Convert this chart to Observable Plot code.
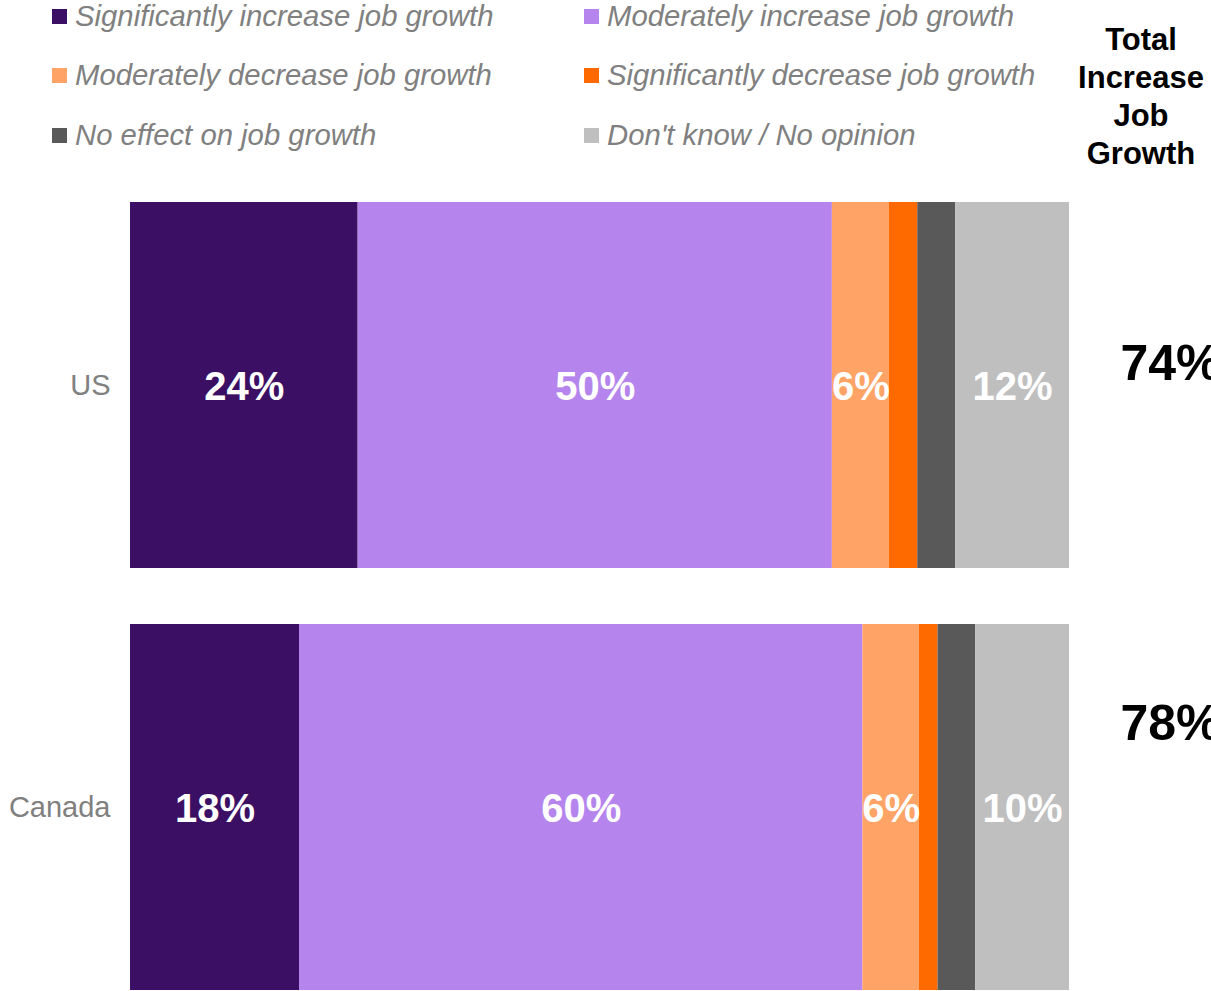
<!DOCTYPE html>
<html>
<head>
<meta charset="utf-8">
<script src="https://cdn.jsdelivr.net/npm/d3@7"></script>
<script src="https://cdn.jsdelivr.net/npm/@observablehq/plot@0.6"></script>
<style>
  html, body { margin: 0; padding: 0; background: #fff; }
  body { font-family: "Liberation Sans", Arial, sans-serif; }
  #wrap { position: relative; width: 1211px; height: 991px; overflow: hidden; }
  #legend { position: absolute; left: 0; top: 0; width: 1060px; height: 170px; }
  .item { position: absolute; display: flex; align-items: center; font-size: 29.3px; font-style: italic; color: #808080; white-space: nowrap; line-height: 34px; }
  .sw { width: 15px; height: 15px; margin-right: 8px; flex: none; }
  #header { position: absolute; left: 1071px; top: 21px; width: 140px; text-align: center; font-weight: bold; font-size: 31px; line-height: 38px; color: #000; }
  #chart { position: absolute; left: 0; top: 0; }
</style>
</head>
<body>
<div id="wrap">
  <div id="chart"></div>
  <div id="legend"></div>
  <div id="header">Total<br>Increase<br>Job<br>Growth</div>
</div>
<script>
const countries = ["US", "Canada"];
const categories = [
  "Significantly increase job growth",
  "Moderately increase job growth",
  "Moderately decrease job growth",
  "Significantly decrease job growth",
  "No effect on job growth",
  "Don't know / No opinion"
];
const colors = ["#3B0F63", "#B585ED", "#FFA366", "#FF6A00", "#595959", "#BFBFBF"];
const usValues = [24, 50, 6, 3, 4, 12];
const canadaValues = [18, 60, 6, 2, 4, 10];
const totalIncrease = [74, 78];

const rows = [];
categories.forEach((c, i) => {
  rows.push({country: "US", category: c, value: usValues[i]});
  rows.push({country: "Canada", category: c, value: canadaValues[i]});
});
const totals = countries.map((c, i) => ({country: c, total: totalIncrease[i]}));

// Legend (HTML)
const legend = document.getElementById("legend");
const colX = [52, 584];
const rowTop = [-1, 58, 118];
categories.forEach((c, i) => {
  const el = document.createElement("div");
  el.className = "item";
  el.style.left = colX[i % 2] + "px";
  el.style.top = rowTop[Math.floor(i / 2)] + "px";
  const sw = document.createElement("span");
  sw.className = "sw";
  sw.style.background = colors[i];
  el.appendChild(sw);
  el.appendChild(document.createTextNode(c));
  legend.appendChild(el);
});

const stackOpts = {x: "value", y: "country", z: "category", order: categories, offset: "normalize"};

const chart = Plot.plot({
  width: 1211,
  height: 991,
  marginTop: 202,
  marginBottom: 0,
  marginLeft: 130,
  marginRight: 142,
  style: {fontFamily: "'Liberation Sans', Arial, sans-serif", color: "#808080", overflow: "visible"},
  x: {axis: null},
  y: {domain: countries, paddingInner: 0.1327, paddingOuter: 0, axis: null},
  color: {domain: categories, range: colors},
  marks: [
    Plot.barX(rows, Plot.stackX({...stackOpts, fill: "category"})),
    Plot.text(rows, Plot.stackX({
      ...stackOpts,
      text: d => d.value >= 5 ? d.value + "%" : "",
      fill: "white",
      fontWeight: "bold",
      fontSize: 40,
      dy: 2
    })),
    Plot.axisY({tickSize: 0, tickPadding: 20, fontSize: 29, label: null, fill: "#808080"}),
    Plot.text(totals.filter(d => d.country === "US"), {
      y: "country", text: d => d.total + "%", frameAnchor: "right", textAnchor: "start",
      dx: 51, dy: -22, fontSize: 50, fontWeight: "bold", fill: "#000"
    }),
    Plot.text(totals.filter(d => d.country === "Canada"), {
      y: "country", text: d => d.total + "%", frameAnchor: "right", textAnchor: "start",
      dx: 51, dy: -84, fontSize: 50, fontWeight: "bold", fill: "#000"
    })
  ]
});
document.getElementById("chart").appendChild(chart);
</script>
</body>
</html>
